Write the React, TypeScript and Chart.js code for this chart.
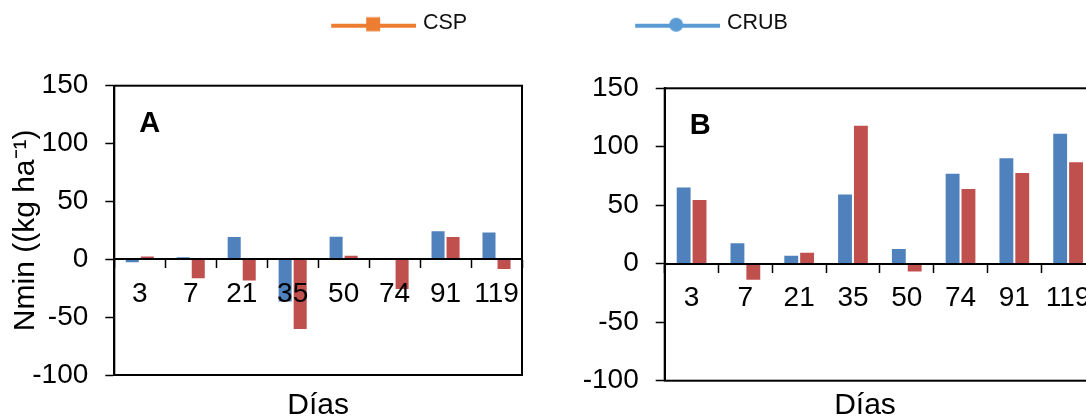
import React, { useEffect, useRef } from 'react';
import { Chart, registerables } from 'chart.js';

Chart.register(...registerables);

const FONT = "'Liberation Sans', Arial, Helvetica, sans-serif";
Chart.defaults.font.family = FONT;
Chart.defaults.color = '#000';

// Sampling days (x categories)
const days = ['3', '7', '21', '35', '50', '74', '91', '119'];

// Panel A – net N mineralisation (kg ha-1)
const crubA = [-3.4, 2.6, 20.1, -37.4, 20.4, 1.4, 25, 24.1];
const cspA = [3.2, -17.3, -19.3, -61.2, 4, -26.5, 20.1, -9.2];

// Panel B – net N mineralisation (kg ha-1)
const crubB = [66, 18.3, 7.7, 60, 13.4, 77.7, 91.1, 112.1];
const cspB = [55.4, -14.6, 10.3, 118.9, -7.4, 64.8, 78.4, 87.6];

// Value axis range
const yMin = -100;
const yMax = 150;
const yStep = 50;

const legendNames = ['CSP', 'CRUB'];
const barColor: Record<string, string> = { CRUB: '#4F81BD', CSP: '#C0504D' };
const legendColor: Record<string, string> = { CSP: '#ED7D31', CRUB: '#5B9BD5' };

const LEGEND_BOX = 237;

// Legend symbol: a short line with a marker (square or circle) in its middle,
// placed at the right end of a wider transparent canvas.
function legendIcon(color: string, shape: 'square' | 'circle'): HTMLCanvasElement {
  const w = 245;
  const h = 24;
  const c = document.createElement('canvas');
  c.width = w;
  c.height = h;
  const ctx = c.getContext('2d')!;
  const x0 = w - 85;
  ctx.strokeStyle = color;
  ctx.fillStyle = color;
  ctx.lineWidth = 4;
  ctx.beginPath();
  ctx.moveTo(x0, 15);
  ctx.lineTo(w, 15);
  ctx.stroke();
  if (shape === 'square') {
    ctx.fillRect(x0 + 42 - 7, 13.5 - 7, 14, 14);
  } else {
    ctx.beginPath();
    ctx.arc(x0 + 41, 14, 7, 0, Math.PI * 2);
    ctx.fill();
  }
  return c;
}

// Border around the plotting area
const plotFrame = {
  id: 'plotFrame',
  beforeDatasetsDraw(chart: any) {
    const { ctx, chartArea: a } = chart;
    ctx.save();
    ctx.strokeStyle = '#000';
    ctx.lineWidth = 2;
    ctx.strokeRect(a.left, a.top, a.right - a.left, a.bottom - a.top);
    ctx.restore();
  },
};

// Panel letter in the upper-left corner of the plot
const panelLetter = {
  id: 'panelLetter',
  afterDatasetsDraw(chart: any, _args: any, opts: any) {
    const { ctx, chartArea: a } = chart;
    ctx.save();
    ctx.font = `bold 29px ${FONT}`;
    ctx.fillStyle = '#000';
    ctx.textAlign = 'left';
    ctx.textBaseline = 'middle';
    ctx.fillText(opts.text, a.left + opts.dx, a.top + opts.dy);
    ctx.restore();
  },
};

function panelData(crub: number[], csp: number[]) {
  const common = {
    categoryPercentage: 0.59,
    barPercentage: 1,
    borderWidth: 1,
    borderColor: 'rgba(255,255,255,0.5)',
  };
  return {
    labels: days,
    datasets: [
      { label: 'CRUB', data: crub, backgroundColor: barColor.CRUB, ...common },
      { label: 'CSP', data: csp, backgroundColor: barColor.CSP, ...common },
    ],
  };
}

interface PanelCfg {
  letter: string;
  padding: { top: number; bottom: number; left: number; right: number };
  yWidth: number;
  yTitle: string | null;
  titleFull: boolean;
  titleGap: number;
  rightSpace: number;
}

function panelOptions(p: PanelCfg): any {
  const scales: any = {
    x: {
      type: 'category',
      position: { y: 0 },
      offset: true,
      grid: {
        offset: true,
        drawOnChartArea: false,
        tickLength: 8,
        tickColor: '#000',
        tickWidth: 1.5,
      },
      border: { display: true, color: '#000', width: 2, z: 1 },
      ticks: {
        z: 1,
        color: '#000',
        font: { size: 28 },
        padding: 10,
        maxRotation: 0,
        autoSkip: false,
      },
    },
    y: {
      min: yMin,
      max: yMax,
      afterFit: (s: any) => {
        s.width = p.yWidth;
      },
      ticks: { stepSize: yStep, color: '#000', font: { size: 28 }, padding: 17 },
      grid: { drawOnChartArea: false, tickLength: 9, tickColor: '#000', tickWidth: 1.5 },
      border: { display: true, color: '#000', width: 2 },
      title: p.yTitle
        ? {
            display: true,
            text: p.yTitle,
            color: '#000',
            font: { size: 30, lineHeight: 1.2 },
            padding: { top: 8, bottom: 0 },
          }
        : { display: false },
    },
  };
  if (p.rightSpace > 0) {
    // empty right-hand axis that only reserves room beside the plot
    scales.yRight = {
      type: 'linear',
      position: 'right',
      display: true,
      grid: { display: false },
      border: { display: false },
      ticks: { display: false },
      afterFit: (s: any) => {
        s.width = p.rightSpace;
      },
    };
  }
  return {
    responsive: false,
    animation: false,
    layout: { padding: p.padding },
    plugins: {
      legend: { display: false },
      tooltip: { enabled: false },
      title: {
        display: true,
        text: 'Días',
        position: 'bottom',
        fullSize: p.titleFull,
        color: '#000',
        font: { size: 30, weight: 'normal', lineHeight: 1 },
        padding: { top: p.titleGap, bottom: 0 },
      },
      panelLetter: { text: p.letter, dx: 25, dy: 38 },
    },
    scales,
  };
}

export default function App() {
  const aRef = useRef<HTMLCanvasElement>(null);
  const bRef = useRef<HTMLCanvasElement>(null);
  const legRef = useRef<HTMLCanvasElement>(null);

  useEffect(() => {
    const icons: Record<string, HTMLCanvasElement> = {
      CSP: legendIcon(legendColor.CSP, 'square'),
      CRUB: legendIcon(legendColor.CRUB, 'circle'),
    };

    const chartA = new Chart(aRef.current!, {
      type: 'bar',
      data: panelData(crubA, cspA),
      options: panelOptions({
        letter: 'A',
        padding: { top: 85.7, bottom: 19.5, left: 0, right: 18 },
        yWidth: 114.3,
        yTitle: 'Nmin ((kg ha\u207B\u00B9)',
        titleFull: false,
        titleGap: 15.5,
        rightSpace: 0,
      }),
      plugins: [plotFrame, panelLetter],
    });

    const chartB = new Chart(bRef.current!, {
      type: 'bar',
      data: panelData(crubB, cspB),
      options: panelOptions({
        letter: 'B',
        padding: { top: 88.3, bottom: 19, left: 0, right: 0 },
        yWidth: 124.7,
        yTitle: null,
        titleFull: true,
        titleGap: 10.3,
        rightSpace: 95,
      }),
      plugins: [plotFrame, panelLetter],
    });

    // Shared legend for both panels
    const legend = new Chart(legRef.current!, {
      type: 'bar',
      data: {
        labels: [],
        datasets: legendNames.map((name) => ({
          label: name,
          data: [],
          backgroundColor: legendColor[name],
        })),
      },
      options: {
        responsive: false,
        animation: false,
        layout: { padding: 0 },
        scales: { x: { display: false }, y: { display: false } },
        plugins: {
          tooltip: { enabled: false },
          legend: {
            display: true,
            position: 'top',
            align: 'center',
            onClick: () => {},
            labels: {
              usePointStyle: true,
              pointStyleWidth: LEGEND_BOX,
              padding: 12,
              color: '#111',
              font: { size: 21.5 },
              generateLabels: () =>
                legendNames.map((name, i) => ({
                  text: name,
                  pointStyle: icons[name],
                  fillStyle: legendColor[name],
                  strokeStyle: legendColor[name],
                  lineWidth: 0,
                  hidden: false,
                  datasetIndex: i,
                  fontColor: '#111',
                })),
            },
          },
        },
      } as any,
    });

    return () => {
      chartA.destroy();
      chartB.destroy();
      legend.destroy();
    };
  }, []);

  return (
    <div
      style={{
        position: 'fixed',
        left: 0,
        top: 0,
        width: 1086,
        height: 419,
        overflow: 'hidden',
        background: '#fff',
      }}
    >
      <canvas ref={aRef} width={540} height={440} style={{ position: 'absolute', left: 0, top: 0 }} />
      <canvas ref={bRef} width={650} height={440} style={{ position: 'absolute', left: 540, top: 0 }} />
      <canvas ref={legRef} width={963} height={100} style={{ position: 'absolute', left: 0, top: 0 }} />
    </div>
  );
}
